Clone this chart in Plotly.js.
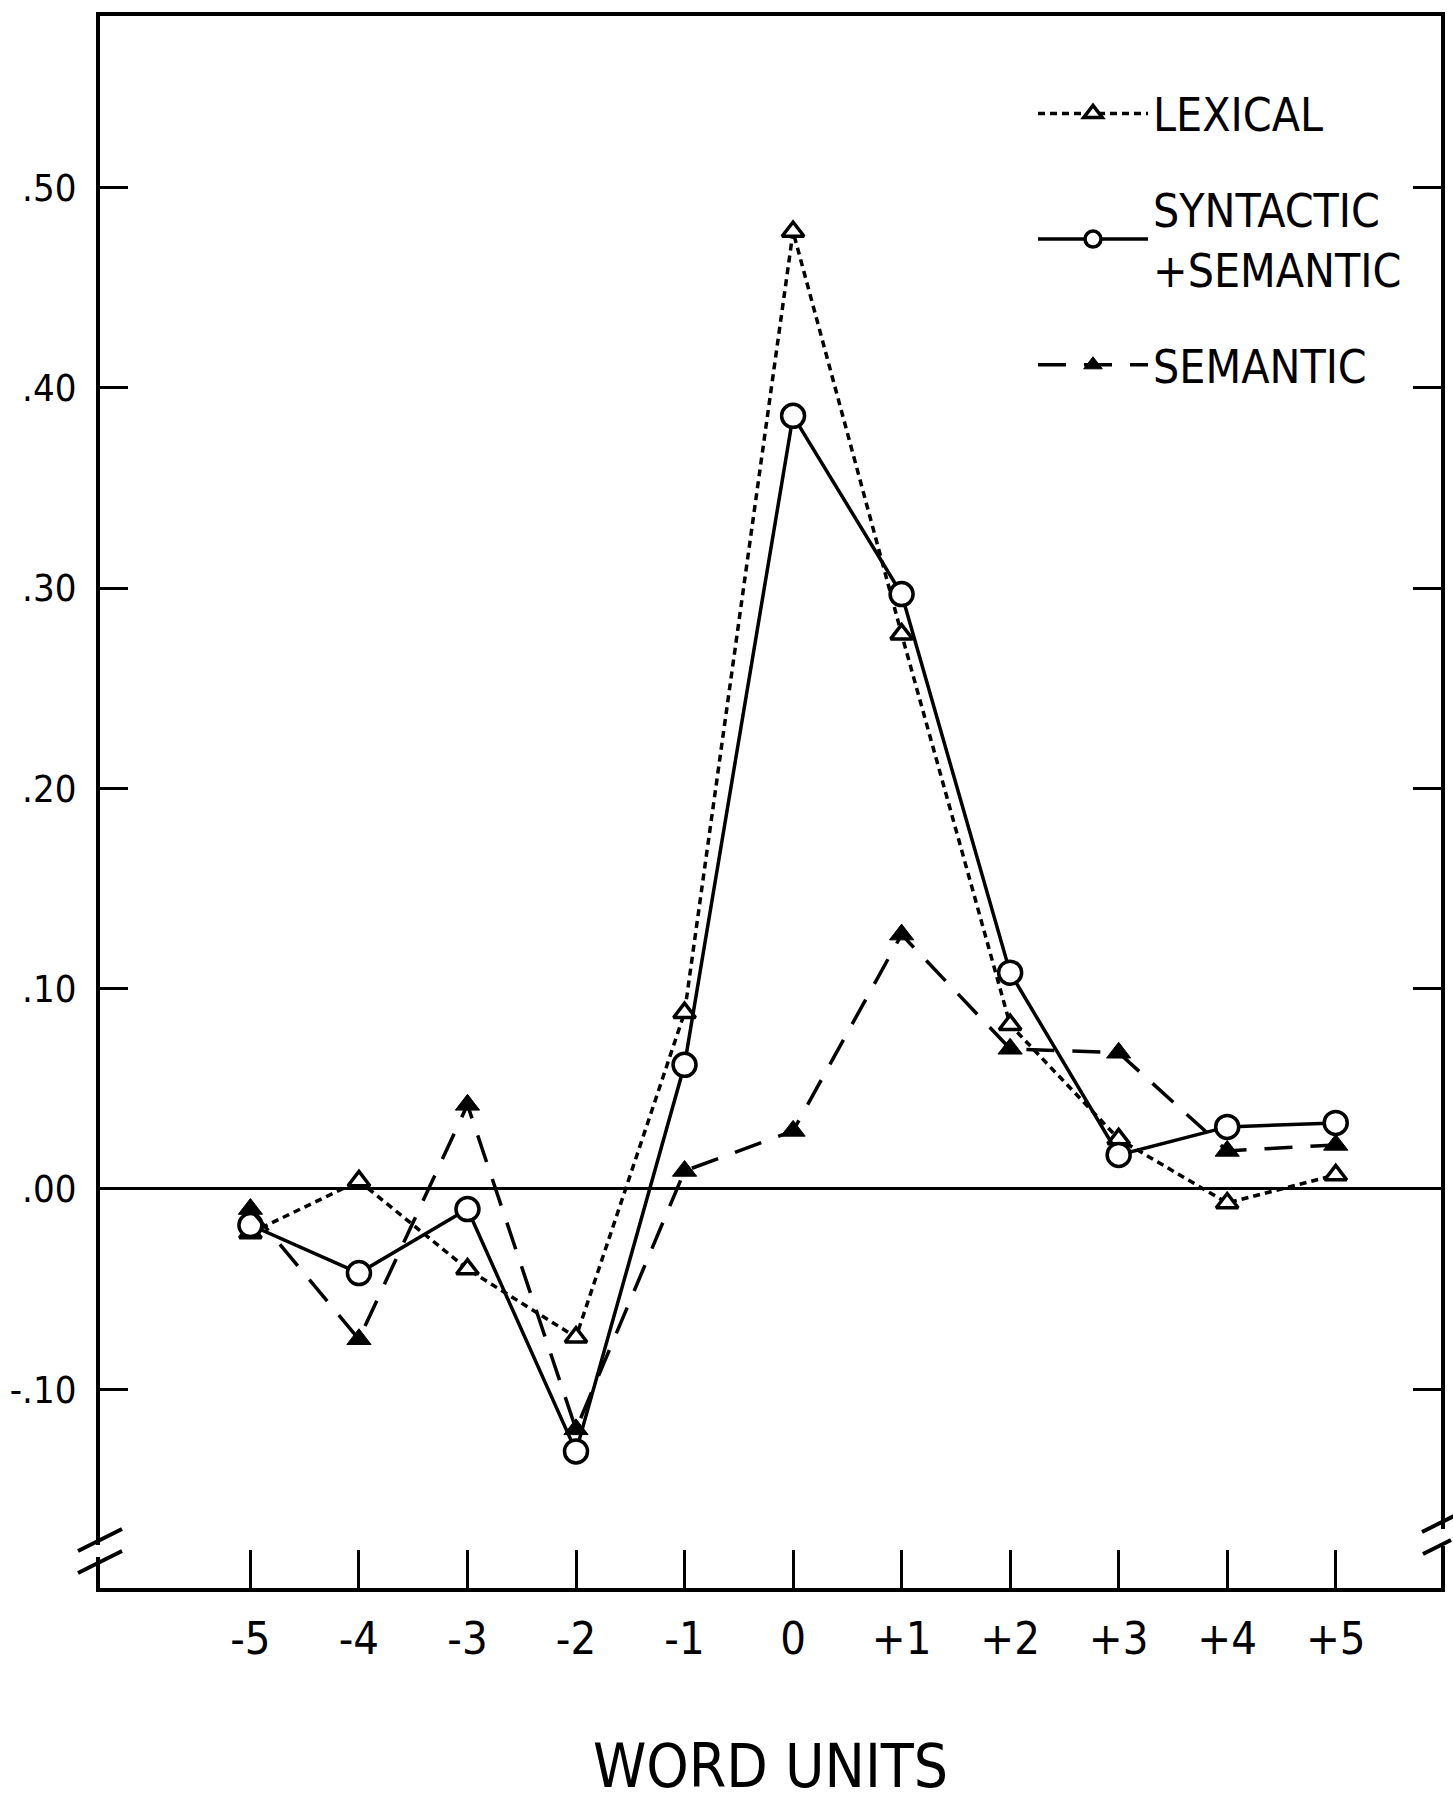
<!DOCTYPE html>
<html>
<head>
<meta charset="utf-8">
<script src="https://cdn.plot.ly/plotly-3.0.1.min.js"></script>
<style>
  html, body { margin: 0; padding: 0; background: #ffffff; }
  #chart { width: 1453px; height: 1801px; }
</style>
</head>
<body>
<div id="chart"></div>
<script>
// ---- data ----
var wordUnits = [-5, -4, -3, -2, -1, 0, 1, 2, 3, 4, 5];
var wordUnitLabels = ["-5", "-4", "-3", "-2", "-1", "0", "+1", "+2", "+3", "+4", "+5"];
var lexical = [-0.022, 0.004, -0.040, -0.074, 0.088, 0.478, 0.277, 0.082, 0.025, -0.007, 0.007];
var syntacticSemantic = [-0.018, -0.042, -0.010, -0.131, 0.062, 0.386, 0.297, 0.108, 0.017, 0.031, 0.033];
var semantic = [-0.010, -0.075, 0.042, -0.120, 0.009, 0.029, 0.127, 0.070, 0.068, 0.019, 0.022];
var yTickValues = [-0.1, 0.0, 0.1, 0.2, 0.3, 0.4, 0.5];
var yTickLabels = ["-.10", ".00", ".10", ".20", ".30", ".40", ".50"];
var seriesNames = ["LEXICAL", "SYNTACTIC<br>+SEMANTIC", "SEMANTIC"];

// ---- styling ----
var FONT = "'DejaVu Sans Condensed', 'Liberation Sans Narrow', 'Liberation Sans', Arial, sans-serif";
var W = 1453, H = 1801;
var M = {l: 100, r: 12, t: 16, b: 213};
var plotW = W - M.l - M.r, plotH = H - M.t - M.b;
function px2x(px) { return (px - M.l) / plotW; }
function px2y(py) { return (H - M.b - py) / plotH; }

var traces = [
  {
    x: wordUnits, y: lexical, name: seriesNames[0], type: "scatter", mode: "lines+markers",
    legendgroup: "a",
    line: {color: "#000", width: 3.5, dash: "7px,5px"},
    marker: {symbol: "triangle-up", size: 19, color: "#fff", line: {color: "#000", width: 3.5}}
  },
  {
    x: wordUnits, y: syntacticSemantic, name: seriesNames[1], type: "scatter", mode: "lines+markers",
    legendgroup: "b",
    line: {color: "#000", width: 3.5},
    marker: {symbol: "circle", size: 23, color: "#fff", line: {color: "#000", width: 3.5}}
  },
  {
    x: wordUnits, y: semantic, name: seriesNames[2], type: "scatter", mode: "lines+markers",
    legendgroup: "c",
    line: {color: "#000", width: 3.5, dash: "28px,18px"},
    marker: {symbol: "triangle-up", size: 21, color: "#000", line: {color: "#000", width: 1}}
  }
];

function slash(cx, cy, dx, dy) {
  return {type: "line", xref: "paper", yref: "paper",
    x0: px2x(cx - dx), y0: px2y(cy + dy), x1: px2x(cx + dx), y1: px2y(cy - dy),
    line: {color: "#000", width: 4}};
}

var shapes = [
  // gaps in the axis lines for the break marks
  {type: "rect", xref: "paper", yref: "paper", x0: px2x(94), x1: px2x(107), y0: px2y(1557), y1: px2y(1545),
    fillcolor: "#fff", line: {width: 0}},
  {type: "rect", xref: "paper", yref: "paper", x0: px2x(1434), x1: px2x(1449), y0: px2y(1546), y1: px2y(1529),
    fillcolor: "#fff", line: {width: 0}},
  slash(100, 1540, 22, 11),
  slash(100, 1562, 22, 11),
  slash(1440, 1523, 18, 9),
  slash(1437, 1547, 14, 7)
];

var layout = {
  width: W, height: H,
  margin: M,
  paper_bgcolor: "#fff", plot_bgcolor: "#fff",
  font: {family: FONT, color: "#000", size: 40},
  showlegend: true,
  legend: {
    x: px2x(1033), y: px2y(77), xanchor: "left", yanchor: "top",
    bgcolor: "rgba(0,0,0,0)", borderwidth: 0,
    font: {family: FONT, size: 46, color: "#000"},
    tracegroupgap: 33, itemwidth: 110, traceorder: "grouped"
  },
  xaxis: {
    range: [-6.386, 5.97],
    tickmode: "array", tickvals: wordUnits, ticktext: wordUnitLabels,
    ticks: "inside", ticklen: 38, tickwidth: 3, tickcolor: "#000",
    ticklabelstandoff: 8,
    tickfont: {family: FONT, size: 45, color: "#000"},
    showline: true, linewidth: 4, linecolor: "#000", mirror: true,
    showgrid: false, zeroline: false,
    title: {text: "WORD UNITS", font: {family: FONT, size: 60, color: "#000"}, standoff: 83}
  },
  yaxis: {
    range: [-0.1992, 0.5856],
    tickmode: "array", tickvals: yTickValues, ticktext: yTickLabels,
    ticks: "inside", ticklen: 28, tickwidth: 3, tickcolor: "#000",
    ticklabelstandoff: 12,
    tickfont: {family: FONT, size: 38, color: "#000"},
    showline: true, linewidth: 4, linecolor: "#000", mirror: "ticks",
    showgrid: false,
    zeroline: true, zerolinewidth: 3, zerolinecolor: "#000"
  },
  shapes: shapes
};

Plotly.newPlot("chart", traces, layout, {displayModeBar: false, staticPlot: true});
</script>
</body>
</html>
